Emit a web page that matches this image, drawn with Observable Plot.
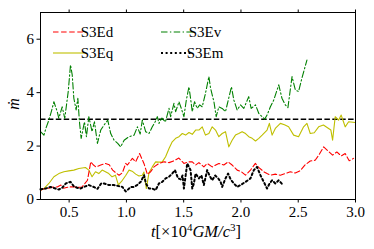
<!DOCTYPE html>
<html><head><meta charset="utf-8">
<script src="https://cdn.jsdelivr.net/npm/d3@7"></script>
<script src="https://cdn.jsdelivr.net/npm/@observablehq/plot@0.6"></script>
<style>body{margin:0;background:#fff} svg, svg text, svg tspan{font-family:'Liberation Serif','Times New Roman',serif !important}</style>
</head><body><div id="chart"></div>
<script>
// series: [t (x10^4 GM/c^3), mdot]
const S3Ed = [[.25,.35],[.28,.4],[.312,.41],[.35,.46],[.396,.47],[.428,.54],[.45,.42],[.497,.47],[.544,.48],[.575,.45],[.613,.47],[.66,.72],[.689,1.41],[.71,1.3],[.733,1.22],[.776,1.29],[.817,1.35],[.85,1.3],[.88,1.1],[.907,1.0],[.936,.91],[.965,1.0],[.994,1.35],[1.009,1.29],[1.052,1.54],[1.081,1.41],[1.115,1.72],[1.153,1.35],[1.183,.94],[1.212,1.04],[1.241,1.22],[1.284,1.35],[1.328,1.41],[1.372,1.38],[1.415,1.45],[1.458,1.55],[1.502,1.35],[1.546,1.41],[1.575,1.41],[1.604,1.29],[1.633,1.38],[1.676,1.22],[1.705,1.35],[1.749,1.22],[1.78,1.29],[1.807,1.35],[1.85,1.29],[1.888,1.41],[1.923,1.29],[1.967,1.1],[2.0,1.05],[2.04,.91],[2.083,1.1],[2.126,1.35],[2.155,1.2],[2.199,1.04],[2.228,.97],[2.257,.91],[2.30,.95],[2.344,.91],[2.387,.97],[2.431,1.04],[2.474,.99],[2.518,1.08],[2.561,1.3],[2.605,1.44],[2.648,1.47],[2.678,1.65],[2.722,1.97],[2.765,1.8],[2.8,1.66],[2.837,1.78],[2.875,1.63],[2.91,1.72],[2.945,1.45],[2.983,1.54]];
const S3Eq = [[.25,.35],[.28,.41],[.323,.6],[.367,.85],[.41,.97],[.454,1.04],[.497,1.07],[.541,1.1],[.585,1.16],[.642,1.2],[.672,1.1],[.70,.85],[.73,1.04],[.759,.97],[.788,1.1],[.817,1.04],[.846,.97],[.875,.85],[.904,.91],[.93,.55],[.965,.72],[.994,.9],[1.023,1.1],[1.05,1.06],[1.081,.95],[1.11,.88],[1.139,.91],[1.153,1.03],[1.174,.41],[1.197,1.0],[1.226,1.22],[1.255,1.41],[1.284,1.4],[1.313,1.41],[1.342,1.6],[1.372,1.91],[1.40,2.16],[1.43,2.29],[1.459,2.35],[1.488,2.47],[1.517,2.41],[1.546,2.51],[1.575,2.44],[1.604,2.6],[1.633,2.6],[1.662,2.72],[1.69,2.41],[1.72,2.47],[1.749,2.72],[1.778,2.6],[1.807,2.35],[1.836,2.47],[1.865,2.54],[1.894,1.97],[1.923,2.22],[1.952,2.41],[1.981,2.47],[2.01,2.54],[2.04,2.47],[2.068,2.35],[2.098,2.29],[2.127,2.19],[2.156,2.29],[2.185,2.41],[2.228,2.6],[2.248,2.85],[2.272,2.41],[2.30,2.66],[2.344,2.85],[2.38,2.8],[2.416,2.72],[2.46,2.41],[2.503,2.35],[2.547,2.72],[2.576,2.85],[2.605,2.47],[2.64,2.5],[2.678,2.72],[2.72,2.79],[2.765,2.66],[2.785,2.6],[2.80,2.22],[2.823,3.1],[2.852,2.97],[2.875,3.16],[2.895,2.91],[2.91,2.72],[2.94,2.91],[2.997,2.88]];
const S3Ev = [[.25,2.54],[.28,2.41],[.30,2.7],[.323,2.97],[.345,3.3],[.367,3.66],[.396,3.29],[.41,3.04],[.439,3.47],[.462,3.04],[.492,4.04],[.512,5.04],[.527,4.66],[.541,3.79],[.561,3.35],[.576,3.79],[.59,2.91],[.605,2.29],[.634,2.91],[.651,2.35],[.672,3.1],[.70,2.54],[.721,2.91],[.747,2.1],[.776,2.6],[.805,2.79],[.837,2.97],[.863,2.47],[.892,2.22],[.924,2.1],[.95,1.97],[.98,2.22],[1.023,2.35],[1.067,2.41],[1.096,2.72],[1.12,2.45],[1.139,2.97],[1.168,2.54],[1.197,2.47],[1.226,2.72],[1.25,2.9],[1.27,3.1],[1.284,2.85],[1.31,3.05],[1.34,2.9],[1.372,3.41],[1.386,3.1],[1.415,3.6],[1.43,3.29],[1.459,3.66],[1.48,3.4],[1.502,3.1],[1.523,3.72],[1.546,4.22],[1.56,3.79],[1.575,3.29],[1.595,3.66],[1.618,3.41],[1.64,3.54],[1.662,3.47],[1.69,3.97],[1.72,4.6],[1.735,4.16],[1.764,3.66],[1.784,3.1],[1.807,3.47],[1.836,3.41],[1.865,3.29],[1.886,3.66],[1.917,4.22],[1.938,3.72],[1.967,3.35],[1.996,3.54],[2.025,3.41],[2.068,3.85],[2.089,3.41],[2.127,3.54],[2.156,3.22],[2.185,3.1],[2.208,3.01],[2.228,3.16],[2.257,3.47],[2.286,3.72],[2.33,4.29],[2.358,3.79],[2.387,3.54],[2.41,3.44],[2.446,4.6],[2.475,4.1],[2.503,4.04],[2.532,4.54],[2.556,4.91],[2.576,5.22]];
const S3Em = [[.25,.38],[.294,.41],[.338,.47],[.381,.41],[.41,.37],[.44,.44],[.471,.6],[.512,.66],[.54,.5],[.57,.44],[.599,.41],[.628,.47],[.672,.54],[.715,.47],[.747,.4],[.78,.6],[.805,.6],[.846,.54],[.889,.54],[.933,.5],[.965,.47],[.994,.3],[1.008,.35],[1.038,.47],[1.066,.47],[1.096,.55],[1.125,.66],[1.154,.91],[1.17,.6],[1.197,.41],[1.226,.41],[1.255,.35],[1.284,.6],[1.313,.66],[1.342,.79],[1.371,.85],[1.40,.97],[1.424,1.1],[1.45,.8],[1.475,.75],[1.49,.9],[1.502,.41],[1.531,1.35],[1.546,1.22],[1.56,1.1],[1.575,.41],[1.589,.6],[1.604,.97],[1.633,.79],[1.655,.9],[1.676,.54],[1.705,1.1],[1.725,.9],[1.749,.72],[1.775,.9],[1.80,.8],[1.822,.66],[1.836,.47],[1.865,.79],[1.888,.97],[1.91,.75],[1.938,.6],[1.967,.47],[2.0,.55],[2.04,.66],[2.083,.79],[2.112,1.1],[2.14,1.22],[2.17,.91],[2.199,.66],[2.228,.41],[2.25,.6],[2.272,.72],[2.30,.6],[2.33,.72],[2.359,.58]];
const refLevel = [3];
const xTicks = [0.5, 1.0, 1.5, 2.0, 2.5, 3.0];
const yTicks = [0, 2, 4, 6];
const seriesNames = ["S3Ed", "S3Eq", "S3Ev", "S3Em"];

const styles = {
  S3Ed: {stroke: "#ff0000", strokeWidth: 1.1, strokeDasharray: "5.5,2.6"},
  S3Eq: {stroke: "#bfbf00", strokeWidth: 1.1, strokeDasharray: null},
  S3Ev: {stroke: "#008000", strokeWidth: 1.1, strokeDasharray: "6.5,2.4,1.4,2.4"},
  S3Em: {stroke: "#000000", strokeWidth: 2, strokeDasharray: "2,2.6"}
};
const seriesData = {S3Ed, S3Eq, S3Ev, S3Em};
const FONT = "'Liberation Serif', 'Times New Roman', serif";

const chart = Plot.plot({
  width: 374, height: 249,
  marginLeft: 40, marginRight: 19, marginTop: 12, marginBottom: 50,
  x: {domain: [0.25, 3.0]},
  y: {domain: [0, 7]},
  style: {fontFamily: FONT, fontSize: "15px", background: "white", color: "black"},
  marks: [
    Plot.ruleY(refLevel, {stroke: "black", strokeWidth: 1.5, strokeDasharray: "5.5,2.4"}),
    ...["S3Ev", "S3Eq", "S3Ed", "S3Em"].map(n => Plot.line(seriesData[n], {
      x: d => d[0], y: d => d[1], ...Object.fromEntries(Object.entries(styles[n]).filter(([k, v]) => v != null))
    })),
    Plot.frame({stroke: "black", strokeWidth: 1}),
    Plot.axisX(xTicks, {anchor: "bottom", tickSize: 3.5, tickPadding: 3, tickFormat: d => d.toFixed(1), label: null, fontSize: 15}),
    Plot.axisX(xTicks, {anchor: "top", tickSize: 3.5, tickFormat: () => "", label: null}),
    Plot.axisY(yTicks, {anchor: "left", tickSize: 3.5, tickPadding: 3, label: null, fontSize: 15})
  ]
});
document.getElementById("chart").appendChild(chart);

const svg = d3.select(chart);
// legend
const legPos = [[53, 32], [53, 53], [161, 32], [161, 53]];
const leg = svg.append("g");
seriesNames.forEach((n, i) => {
  const [lx, ly] = legPos[i];
  const s = styles[n];
  leg.append("line").attr("x1", lx).attr("x2", lx + 32).attr("y1", ly).attr("y2", ly)
    .attr("stroke", s.stroke).attr("stroke-width", s.strokeWidth)
    .attr("stroke-dasharray", s.strokeDasharray);
  leg.append("text").attr("x", lx + 44).attr("y", ly + 5).attr("font-size", 15)
    .style("font-family", FONT).text(n);
});
// y label
svg.append("text").attr("transform", "translate(19,104) rotate(-90)")
  .attr("text-anchor", "middle").attr("font-size", 16).attr("font-style", "italic")
  .style("font-family", FONT).text("ṁ");
// x label
const xl = svg.append("text").attr("x", 196).attr("y", 237).attr("text-anchor", "middle")
  .attr("font-size", 16.5).style("font-family", FONT);
xl.append("tspan").attr("font-style", "italic").text("t");
xl.append("tspan").text("[×10");
xl.append("tspan").attr("font-size", 11).attr("dy", -6).text("4");
xl.append("tspan").attr("font-style", "italic").attr("dy", 6).text("GM/c");
xl.append("tspan").attr("font-size", 11).attr("dy", -6).text("3");
xl.append("tspan").attr("dy", 6).text("]");
</script></body></html>
